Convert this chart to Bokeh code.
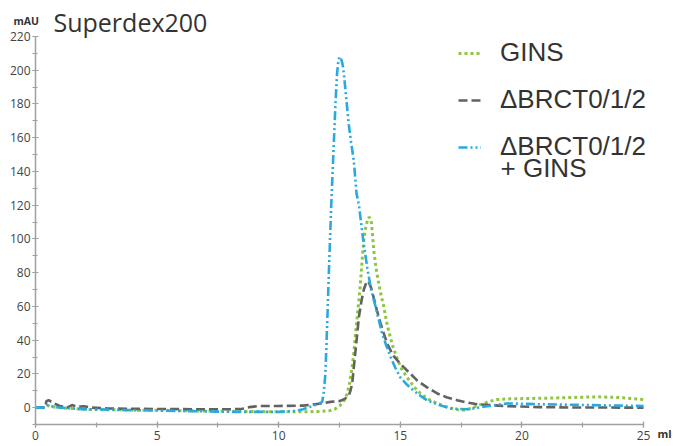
from bokeh.plotting import figure
from bokeh.models import (Range1d, SingleIntervalTicker, Label, Legend, LegendItem)
from bokeh.embed import file_html
from bokeh.resources import INLINE

# ---- data ----
gins_x = [0, 0.4, 0.5, 0.7, 1.0, 1.5, 2, 3, 4, 5, 6, 7, 8, 9, 10, 11, 11.6, 12.1, 12.3,
          12.54, 12.7, 12.82, 12.92, 13.02, 13.1, 13.16, 13.23, 13.3, 13.36, 13.43, 13.5,
          13.58, 13.65, 13.72, 13.8, 13.85, 13.91, 14.0, 14.12, 14.22, 14.32, 14.42, 14.53,
          14.7, 14.87, 15.05, 15.28, 15.55, 15.83, 16.15, 16.52, 16.9, 17.2, 17.48, 17.7,
          17.9, 18.15, 18.43, 18.7, 18.98, 19.5, 20.2, 21, 22, 23.1, 24, 25]
gins_y = [0, 0, 1.2, 0.5, 0, -0.5, -1, -1.2, -1.5, -1.5, -1.8, -2, -2.2, -2.3, -2.5, -2.5,
          -2.3, -1.8, -1.0, 1.5, 4.5, 8.4, 15, 24, 34, 44, 54, 64, 73.5, 87, 100, 107, 111,
          113, 111, 104, 93, 83, 73, 66, 60, 52, 45, 36, 29, 23, 18, 12.5, 8.4, 5, 2.5, 0.5,
          -0.8, -1.5, -1.3, -0.5, 1, 2.5, 3.8, 4.8, 5.2, 5.4, 5.6, 6, 6.4, 6, 4.8]

brct_x = [0, 0.4, 0.45, 0.55, 0.75, 1.0, 1.3, 1.5, 1.7, 2.0, 2.3, 3, 4, 5, 6, 7, 8, 8.5, 8.8,
          9.2, 10, 11, 11.8, 12.13, 12.54, 12.75, 12.88, 12.95, 13.02, 13.09, 13.16, 13.23,
          13.3, 13.4, 13.5, 13.6, 13.68, 13.8, 13.91, 14.05, 14.19, 14.32, 14.46, 14.7, 15.0,
          15.35, 15.7, 16.1, 16.52, 16.9, 17.34, 17.75, 18.16, 18.8, 19.4, 20.7, 22, 25]
brct_y = [0, 0, 4, 4.4, 2.5, 1, 0, 1.5, 0.5, 0.8, 0, -0.5, -0.7, -0.8, -0.9, -1, -1, -0.7,
          0.3, 1, 1, 1.2, 2.5, 3.4, 4, 5.5, 7, 10, 14, 24, 34, 44, 54, 63, 70, 74, 75, 71, 65,
          57, 50, 44, 38, 31, 26, 21, 16, 12, 8.4, 6.2, 4.4, 3, 2, 1.4, 0.9, 0.3, 0.1, 0]

mix_x = [0, 0.4, 0.5, 0.8, 1.5, 2, 3, 4, 5, 6, 7, 8, 9, 10, 10.7, 11.0, 11.3, 11.6, 11.79,
         11.86, 11.92, 11.99, 12.06, 12.16, 12.27, 12.34, 12.4, 12.45, 12.5, 12.56, 12.62,
         12.68, 12.78, 12.88, 12.98, 13.09, 13.2, 13.3, 13.47, 13.64, 13.8, 13.98, 14.1,
         14.25, 14.42, 14.6, 14.8, 15.0, 15.28, 15.56, 15.83, 16.1, 16.6, 17.06, 17.4, 17.75,
         18.1, 18.43, 18.9, 19.4, 20, 20.7, 22, 23.5, 25]
mix_y = [0, 0, 1.5, 0.3, -0.5, -1, -1.2, -1.5, -1.7, -2, -2.2, -2.5, -2.5, -2.5, -2, -1, 0.5,
         2, 3.4, 10, 20, 48, 79, 120, 158, 182, 198, 205, 208, 207, 204, 198, 183, 168, 157,
         146, 127, 120, 100, 83, 70, 60, 53, 44, 37, 30, 23.5, 18, 13.5, 10, 7, 4.4, 1.5,
         -0.5, -0.8, -1, -0.3, 0.5, 1.5, 2.5, 2.3, 2, 1.7, 1.3, 1]

series_names = ["GINS", "\u0394BRCT0/1/2", "\u0394BRCT0/1/2"]
series_extra = "+ GINS"
title_text = "Superdex200"
y_unit = "mAU"
x_unit = "ml"
x_axis_range = (0, 25)
y_axis_range = (-10, 220)

# ---- layout: frame covers whole canvas, axes fixed inside it ----
W, H = 673, 446
left_px, right_px, top_px, bottom_px = 35, 643, 36, 424
xs = (right_px - left_px) / (x_axis_range[1] - x_axis_range[0])
ys = (bottom_px - top_px) / (y_axis_range[1] - y_axis_range[0])
x_start = x_axis_range[0] - left_px / xs
x_end = x_axis_range[1] + (W - right_px) / xs
y_start = y_axis_range[0] - (H - bottom_px) / ys
y_end = y_axis_range[1] + top_px / ys

p = figure(width=W, height=H, output_backend="svg", toolbar_location=None,
           x_range=Range1d(x_start, x_end), y_range=Range1d(y_start, y_end),
           min_border=0)
p.outline_line_color = None
p.xgrid.visible = False
p.ygrid.visible = False
p.background_fill_color = "white"
p.border_fill_color = "white"

p.xaxis.ticker = SingleIntervalTicker(interval=5, num_minor_ticks=2)
p.yaxis.ticker = SingleIntervalTicker(interval=20, num_minor_ticks=2)
p.xaxis.fixed_location = y_axis_range[0]
p.yaxis.fixed_location = x_axis_range[0]
p.xaxis.bounds = x_axis_range
p.yaxis.bounds = y_axis_range
for ax in (p.xaxis[0], p.yaxis[0]):
    ax.axis_line_color = "#a0a0a0"
    ax.axis_line_width = 1.5
    ax.major_tick_line_color = "#a0a0a0"
    ax.minor_tick_line_color = "#a0a0a0"
    ax.major_tick_line_width = 1.2
    ax.minor_tick_line_width = 1.2
    ax.major_tick_in = 3
    ax.major_tick_out = 3
    ax.minor_tick_in = 2
    ax.minor_tick_out = 3
    ax.major_label_text_font = "Open Sans"
    ax.major_label_text_font_size = "12px"
    ax.major_label_text_color = "#444444"
p.yaxis.major_label_standoff = 2
p.xaxis.major_label_standoff = 3

green = "#8dc63f"
gray = "#626262"
blue = "#29a9e0"

r1 = p.line(gins_x, gins_y, line_color=green, line_width=3, line_dash="3 3")
r2 = p.line(brct_x, brct_y, line_color=gray, line_width=2.6, line_dash="9 4")
r3 = p.line(mix_x, mix_y, line_color=blue, line_width=2.6, line_dash="9 3 2 3 2 3")

legend = Legend(items=[LegendItem(label=series_names[0], renderers=[r1]),
                       LegendItem(label=series_names[1], renderers=[r2]),
                       LegendItem(label=series_names[2], renderers=[r3])],
                location=(458, 284), padding=0, margin=0, spacing=16,
                glyph_width=23, glyph_height=26, label_height=26, label_standoff=19,
                label_text_font="Liberation Sans", label_text_font_size="26px",
                label_text_color="#333333",
                border_line_color=None, background_fill_alpha=0)
p.add_layout(legend, "center")

p.add_layout(Label(x=500, y=H - 167.5, x_units="screen", y_units="screen", text=series_extra,
                   text_font="Liberation Sans", text_font_size="26px", text_color="#333333",
                   text_baseline="alphabetic"))
p.add_layout(Label(x=53, y=H - 21, x_units="screen", y_units="screen", text=title_text,
                   text_font="Open Sans", text_font_size="25px", text_color="#333333",
                   text_baseline="alphabetic"))
p.add_layout(Label(x=13, y=H - 20, x_units="screen", y_units="screen", text=y_unit,
                   text_font="Open Sans", text_font_size="10.5px", text_font_style="bold",
                   text_color="#333333", text_baseline="alphabetic"))
p.add_layout(Label(x=657, y=H - 432.5, x_units="screen", y_units="screen", text=x_unit,
                   text_font="Open Sans", text_font_size="11px", text_font_style="bold",
                   text_color="#333333", text_baseline="alphabetic"))

open("out.html", "w").write(file_html(p, INLINE))
